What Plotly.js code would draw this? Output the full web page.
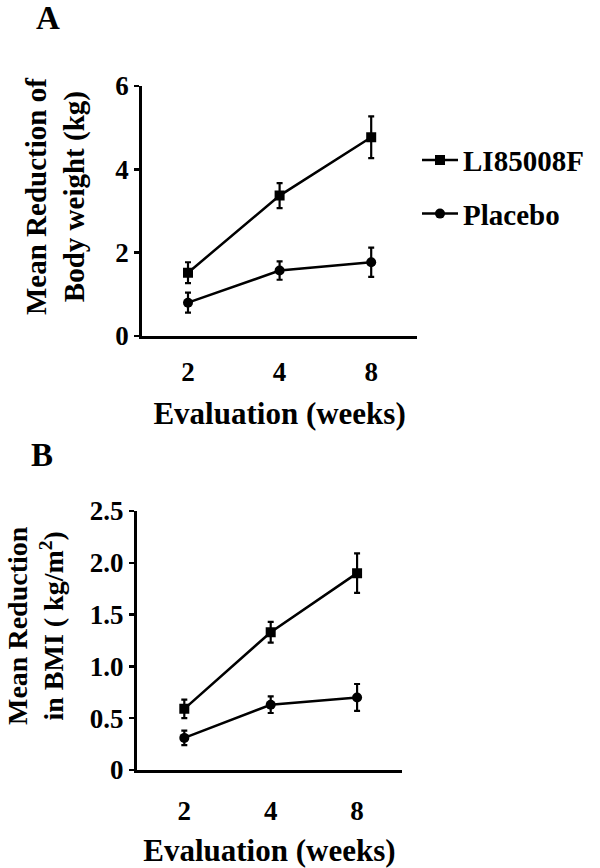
<!DOCTYPE html>
<html><head><meta charset="utf-8">
<script src="https://cdn.plot.ly/plotly-3.0.1.min.js"></script>
<style>body{margin:0;background:#fff}#c{width:600px;height:868px}</style>
</head><body><div id="c"></div>
<script>
const weeks = ['2','4','8'];
const seriesNames = ['LI85008F','Placebo'];
const weightLI = [1.52, 3.37, 4.77];
const weightLIerr = [0.25, 0.3, 0.5];
const weightPl = [0.8, 1.57, 1.77];
const weightPlerr = [0.24, 0.22, 0.35];
const bmiLI = [0.59, 1.33, 1.9];
const bmiLIerr = [0.09, 0.1, 0.19];
const bmiPl = [0.31, 0.63, 0.7];
const bmiPlerr = [0.07, 0.08, 0.13];
const yTicksA = [0, 2, 4, 6];
const yTicksB = [0, 0.5, 1, 1.5, 2, 2.5];
const yTextB = ['0', '0.5', '1.0', '1.5', '2.0', '2.5'];

const F = 'Liberation Serif, Times New Roman, serif';
function fnt(s) { return {family: F, size: s, color: '#000', weight: 'bold'}; }
function tr(y, err, name, sym, xa, ya, show) {
  return {x: weeks, y: y, name: name, type: 'scatter', mode: 'lines+markers',
    xaxis: xa, yaxis: ya, showlegend: show, legendgroup: name,
    line: {color: '#000', width: 2.5},
    marker: {symbol: sym, size: 10, color: '#000'},
    error_y: {type: 'data', array: err, color: '#000', thickness: 2.2, width: 3}};
}
const data = [
  tr(weightLI, weightLIerr, seriesNames[0], 'square', 'x', 'y', true),
  tr(weightPl, weightPlerr, seriesNames[1], 'circle', 'x', 'y', true),
  tr(bmiLI, bmiLIerr, seriesNames[0], 'square', 'x2', 'y2', false),
  tr(bmiPl, bmiPlerr, seriesNames[1], 'circle', 'x2', 'y2', false)
];
const xbase = {type: 'category', showline: true, linewidth: 3, linecolor: '#000',
  ticks: '', showgrid: false, zeroline: false, tickfont: fnt(27), fixedrange: true};
const ybase = {showline: true, linewidth: 3, linecolor: '#000', ticks: 'outside', ticklen: 5, tickwidth: 2.5,
  tickcolor: '#000', showgrid: false, zeroline: false, tickfont: fnt(27), fixedrange: true};
const layout = {
  width: 600, height: 868, margin: {l: 0, r: 0, t: 0, b: 0},
  paper_bgcolor: '#fff', plot_bgcolor: '#fff', font: {family: F, color: '#000'},
  xaxis: Object.assign({}, xbase, {domain: [0.237, 0.695], anchor: 'y', range: [-0.5, 2.5], ticklabelstandoff: 10,
    title: {text: 'Evaluation (weeks)', font: fnt(31), standoff: 16}}),
  yaxis: Object.assign({}, ybase, {domain: [0.6129, 0.9009], anchor: 'x', range: [0, 6], tickvals: yTicksA}),
  xaxis2: Object.assign({}, xbase, {domain: [0.228, 0.67], anchor: 'y2', range: [-0.55, 2.52], ticklabelstandoff: 15,
    title: {text: 'Evaluation (weeks)', font: fnt(31), standoff: 20}}),
  yaxis2: Object.assign({}, ybase, {domain: [0.1129, 0.4113], anchor: 'x2', range: [0, 2.5],
    tickvals: yTicksB, ticktext: yTextB}),
  legend: {x: 0.695, y: 0.845, xanchor: 'left', yanchor: 'top', font: fnt(29), itemwidth: 36,
    tracegroupgap: 13, traceorder: 'grouped', bgcolor: 'rgba(0,0,0,0)'},
  annotations: [
    {text: 'A', x: 48 / 600, y: 1 - 18 / 868, xref: 'paper', yref: 'paper', xanchor: 'center', yanchor: 'middle',
      showarrow: false, font: fnt(33)},
    {text: 'B', x: 42 / 600, y: 1 - 455 / 868, xref: 'paper', yref: 'paper', xanchor: 'center', yanchor: 'middle',
      showarrow: false, font: fnt(33)},
    {text: 'Mean Reduction of<br>Body weight (kg)', textangle: -90, x: 55 / 600, y: 1 - 197 / 868,
      xref: 'paper', yref: 'paper', xanchor: 'center', yanchor: 'middle', showarrow: false, font: fnt(29)},
    {text: 'Mean Reduction<br>in BMI ( kg/m<sup>2</sup>)', textangle: -90, x: 35 / 600, y: 1 - 626 / 868,
      xref: 'paper', yref: 'paper', xanchor: 'center', yanchor: 'middle', showarrow: false, font: fnt(28)}
  ]
};
Plotly.newPlot('c', data, layout, {displayModeBar: false, staticPlot: true});
</script></body></html>
